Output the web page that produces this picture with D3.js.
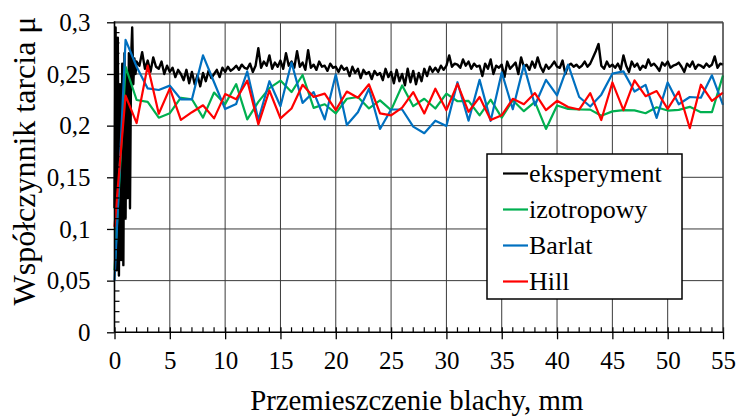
<!DOCTYPE html>
<html>
<head>
<meta charset="utf-8">
<script src="https://cdn.jsdelivr.net/npm/d3@7"></script>
<style>
  body { margin: 0; background: #fff; }
  text { font-family: "Liberation Serif", "Times New Roman", serif; fill: #000; }
</style>
</head>
<body>
<div id="frictionChart"></div>
<script>
// model curves, one point per mm
let modelX = d3.range(0, 56);

let izotropowy = [0.06, 0.257, 0.2248, 0.223, 0.2077, 0.212, 0.227, 0.2255, 0.2077, 0.232,
  0.2207, 0.2402, 0.206, 0.223, 0.2363, 0.2436, 0.2325, 0.249, 0.2172, 0.2207,
  0.2118, 0.226, 0.2277, 0.2166, 0.2245, 0.215, 0.2389, 0.2188, 0.226, 0.2166,
  0.231, 0.2236, 0.224, 0.210, 0.2252, 0.2078, 0.2245, 0.214, 0.223, 0.1968,
  0.2195, 0.2162, 0.2157, 0.2155, 0.2095, 0.2138, 0.215, 0.2148, 0.212, 0.2178,
  0.2146, 0.2153, 0.2182, 0.213, 0.213, 0.2487];

let barlat = [0.05, 0.283, 0.257, 0.236, 0.2345, 0.2387, 0.2255, 0.2255, 0.268, 0.242,
  0.216, 0.221, 0.2525, 0.2054, 0.243, 0.2188, 0.2611, 0.222, 0.2325, 0.206,
  0.2494, 0.2006, 0.213, 0.2357, 0.1968, 0.2156, 0.2156, 0.199, 0.1927, 0.2048,
  0.1997, 0.242, 0.2048, 0.2443, 0.2046, 0.2515, 0.2158, 0.2583, 0.2197, 0.2443,
  0.2293, 0.259, 0.2277, 0.2185, 0.23, 0.2503, 0.2525, 0.233, 0.2395, 0.2075,
  0.2418, 0.2207, 0.2277, 0.227, 0.2487, 0.22];

let hill = [0.102, 0.229, 0.2025, 0.258, 0.2115, 0.236, 0.2055, 0.213, 0.2197, 0.207,
  0.2305, 0.2255, 0.2436, 0.2013, 0.234, 0.207, 0.2166, 0.2395, 0.2277, 0.231,
  0.215, 0.233, 0.227, 0.24, 0.2118, 0.210, 0.2175, 0.2325, 0.2118, 0.2357,
  0.215, 0.2404, 0.2134, 0.2277, 0.2054, 0.210, 0.226, 0.2207, 0.2315, 0.215,
  0.224, 0.218, 0.2156, 0.2315, 0.2054, 0.2418, 0.215, 0.2438, 0.2285, 0.2335,
  0.2162, 0.233, 0.1975, 0.2396, 0.224, 0.232];

// measurement: start-up oscillation (0 - 1.9 mm)
let expStartX = [0, 0.1, 0.2, 0.3, 0.4, 0.5, 0.6, 0.7, 0.8, 0.9, 1.0, 1.1, 1.2, 1.3, 1.4, 1.5, 1.6, 1.7, 1.8, 1.9];
let expStartY = [0.12, 0.295, 0.06, 0.285, 0.055, 0.24, 0.07, 0.26, 0.065, 0.27, 0.11, 0.25, 0.13, 0.27, 0.12, 0.265, 0.295, 0.24, 0.265, 0.25];

// measurement from 2 mm, every 0.25 mm
let expStep = 0.25;
let expRest = [
  .262, .258, .271, .255,  .263, .252, .266, .257,  .255, .262, .250, .258,   // 2-4
  .252, .256, .247, .254,  .250, .244, .254, .241,  .252, .240, .249, .238,   // 5-7
  .251, .243, .253, .246,  .250, .254, .247, .256,  .252, .257, .253, .255,   // 8-10
  .258, .254, .259, .256,  .255, .260, .252, .258,  .275, .256, .262, .258,   // 11-13
  .268, .255, .261, .257,  .263, .255, .270, .258,  .262, .256, .272, .257,   // 14-16
  .261, .254, .273, .256,  .259, .254, .262, .257,  .258, .253, .260, .256,   // 17-19
  .257, .252, .258, .254,  .256, .248, .257, .251,  .255, .246, .254, .250,   // 20-22
  .252, .245, .253, .249,  .251, .244, .255, .247,  .252, .241, .254, .243,   // 23-25
  .250, .239, .255, .242,  .253, .240, .251, .243,  .255, .248, .257, .252,   // 26-28
  .256, .252, .258, .254,  .258, .268, .257, .260,  .259, .256, .264, .258,   // 29-31
  .262, .255, .260, .257,  .258, .248, .260, .255,  .264, .250, .258, .256,   // 32-34
  .259, .247, .262, .255,  .258, .261, .250, .266,  .257, .259, .254, .262,   // 35-37
  .256, .266, .257, .252,  .259, .255, .258, .262,  .257, .256, .263, .250,   // 38-40
  .258, .260, .257, .259,  .256, .258, .262, .257,  .260, .266, .272, .279,   // 41-43
  .258, .255, .262, .257,  .259, .256, .260, .254,  .268, .258, .252, .262,   // 44-46
  .257, .260, .254, .258,  .256, .264, .258, .260,  .257, .253, .261, .258,   // 47-49
  .262, .256, .258, .259,  .261, .257, .252, .260,  .257, .262, .255, .259,   // 50-52
  .258, .256, .260, .257,  .259, .267, .256, .260,  .259                      // 53-55
];

let xTicks = d3.range(0, 56, 5);
let yTicks = [0, 0.05, 0.1, 0.15, 0.2, 0.25, 0.3];

let seriesNames = ["eksperyment", "izotropowy", "Barlat", "Hill"];
let seriesColors = ["#000000", "#00b050", "#0070c0", "#ff0000"];

let serif = '"Liberation Serif", "Times New Roman", serif';


function frictionChart() {
    let width = 738, height = 416;
    let left = 114.5, right = 723, top = 22.3, bottom = 332.3;

    let svg = d3.select("#frictionChart").append("svg")
                .attr("width", width)
                .attr("height", height);

    let xScale = d3.scaleLinear().domain([0, 55]).range([left, right]);
    let yScale = d3.scaleLinear().domain([0, 0.3]).range([bottom, top]);

    /* grid */
    svg.append("g").selectAll("line.vgrid")
        .data(xTicks.slice(1))
        .enter().append("line")
        .attr("x1", d => xScale(d)).attr("x2", d => xScale(d))
        .attr("y1", top).attr("y2", bottom)
        .attr("stroke", "#3a3a3a").attr("stroke-width", 1);

    svg.append("g").selectAll("line.hgrid")
        .data(yTicks.slice(1))
        .enter().append("line")
        .attr("x1", left).attr("x2", right)
        .attr("y1", d => yScale(d)).attr("y2", d => yScale(d))
        .attr("stroke", d => d == 0.3 ? "#555" : "#3a3a3a")
        .attr("stroke-width", d => d == 0.3 ? 2.2 : 1);

    /* data */
    let expData = expStartX.map((x, i) => [x, expStartY[i]])
        .concat(expRest.map((v, i) => [2 + i * expStep, v]));

    let line = d3.line().x(d => xScale(d[0])).y(d => yScale(d[1]));

    let models = [izotropowy, barlat, hill];

    svg.append("path")
        .datum(expData)
        .attr("d", line)
        .attr("fill", "none")
        .attr("stroke", seriesColors[0])
        .attr("stroke-width", 2.4)
        .attr("stroke-linejoin", "round");

    models.forEach(function(vals, k) {
        svg.append("path")
            .datum(modelX.map((x, i) => [x, vals[i]]))
            .attr("d", line)
            .attr("fill", "none")
            .attr("stroke", seriesColors[k + 1])
            .attr("stroke-width", 2.2)
            .attr("stroke-linejoin", "round");
    });

    /* axes */
    let xAxis = d3.axisBottom(xScale)
        .tickValues(xTicks)
        .tickSize(7)
        .tickPadding(12)
        .tickFormat(d => d);

    let gx = svg.append("g")
        .attr("transform", "translate(0," + bottom + ")")
        .call(xAxis);
    gx.attr("font-family", null).attr("font-size", null);
    gx.select(".domain").remove();
    gx.selectAll(".tick line").attr("y1", -5).attr("stroke", "#000").attr("stroke-width", 1.3);
    gx.selectAll(".tick text")
        .style("font-family", serif)
        .style("font-size", "25px");

    let yAxis = d3.axisLeft(yScale)
        .tickValues(yTicks)
        .tickSize(7.5)
        .tickPadding(16)
        .tickFormat(d => d3.format(".2~f")(d).replace(".", ","));

    let gy = svg.append("g")
        .attr("transform", "translate(" + left + ",0)")
        .call(yAxis);
    gy.attr("font-family", null).attr("font-size", null);
    gy.select(".domain").remove();
    gy.selectAll(".tick line").attr("stroke", "#000").attr("stroke-width", 1.3);
    gy.selectAll(".tick text")
        .attr("x", -24)
        .attr("dy", "0.33em")
        .style("font-family", serif)
        .style("font-size", "25px");

    // minor ticks
    let xMinor = d3.range(1, 55).filter(d => d % 5 != 0);
    svg.append("g").selectAll("line")
        .data(xMinor)
        .enter().append("line")
        .attr("x1", d => xScale(d)).attr("x2", d => xScale(d))
        .attr("y1", bottom - 5).attr("y2", bottom)
        .attr("stroke", "#000").attr("stroke-width", 1.2);

    let yMinor = d3.range(1, 30).filter(d => d % 5 != 0).map(d => d / 100);
    svg.append("g").selectAll("line")
        .data(yMinor)
        .enter().append("line")
        .attr("x1", left).attr("x2", left + 5)
        .attr("y1", d => yScale(d)).attr("y2", d => yScale(d))
        .attr("stroke", "#000").attr("stroke-width", 1.2);

    // axis lines and right frame
    svg.append("line").attr("x1", left).attr("x2", right)
        .attr("y1", bottom).attr("y2", bottom)
        .attr("stroke", "#000").attr("stroke-width", 1.6);
    svg.append("line").attr("x1", left).attr("x2", left)
        .attr("y1", top - 1).attr("y2", bottom)
        .attr("stroke", "#000").attr("stroke-width", 1.6);
    svg.append("line").attr("x1", right).attr("x2", right)
        .attr("y1", top).attr("y2", bottom)
        .attr("stroke", "#3a3a3a").attr("stroke-width", 1);

    /* titles */
    svg.append("text")
        .attr("x", (left + right) / 2 - 2)
        .attr("y", 410)
        .attr("text-anchor", "middle")
        .style("font-family", serif)
        .style("font-size", "28.8px")
        .text("Przemieszczenie blachy, mm");

    svg.append("text")
        .attr("transform", "translate(35,161) rotate(-90)")
        .attr("text-anchor", "middle")
        .style("font-family", serif)
        .style("font-size", "32px")
        .text("Współczynnik tarcia μ");

    /* legend */
    let lg = svg.append("g");
    lg.append("rect")
        .attr("x", 487).attr("y", 154)
        .attr("width", 195).attr("height", 145)
        .attr("fill", "#fff")
        .attr("stroke", "#000").attr("stroke-width", 1.5);

    seriesNames.forEach(function(name, i) {
        let yy = 182 + i * 36;
        lg.append("line")
            .attr("x1", 503).attr("x2", 528)
            .attr("y1", yy - 8.5).attr("y2", yy - 8.5)
            .attr("stroke", seriesColors[i]).attr("stroke-width", 2.2);
        lg.append("text")
            .attr("x", 529).attr("y", yy)
            .style("font-family", serif)
            .style("font-size", "26px")
            .text(name);
    });
}

frictionChart();
</script>
</body>
</html>
